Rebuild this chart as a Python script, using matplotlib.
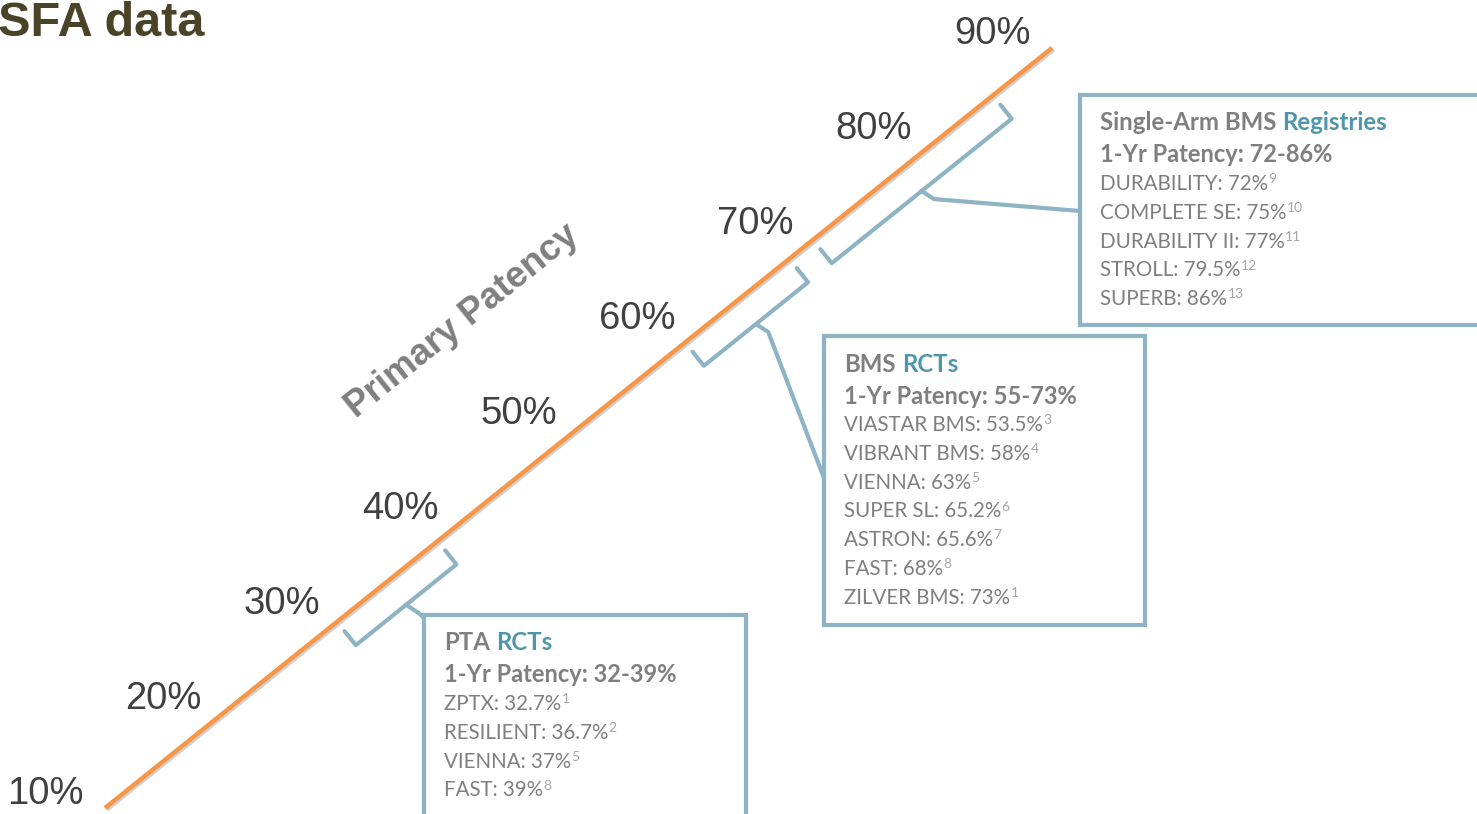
import matplotlib
matplotlib.use("Agg")
import matplotlib.pyplot as plt
import matplotlib.patheffects as pe
from matplotlib.patches import Rectangle
from matplotlib.transforms import Affine2D

# patency scale along the diagonal
tick_values = [10, 20, 30, 40, 50, 60, 70, 80, 90]
line_span = [11.6, 91.6]

# study groups
group_names = ["PTA", "BMS", "Single-Arm BMS"]
group_tags = ["RCTs", "RCTs", "Registries"]
range_lo = [32, 55, 72]
range_hi = [39, 73, 86]
# bracket extent as drawn on the slide (patency %)
bracket_lo = [31.2, 60.6, 71.4]
bracket_hi = [39.7, 69.4, 86.6]

pta_studies = ["ZPTX", "RESILIENT", "VIENNA", "FAST"]
pta_values = [32.7, 36.7, 37, 39]
pta_refs = [1, 2, 5, 8]

bms_studies = ["VIASTAR BMS", "VIBRANT BMS", "VIENNA", "SUPER SL", "ASTRON", "FAST", "ZILVER BMS"]
bms_values = [53.5, 58, 63, 65.2, 65.6, 68, 73]
bms_refs = [3, 4, 5, 6, 7, 8, 1]

reg_studies = ["DURABILITY", "COMPLETE SE", "DURABILITY II", "STROLL", "SUPERB"]
reg_values = [72, 75, 77, 79.5, 86]
reg_refs = [9, 10, 11, 12, 13]

ORANGE = "#f79646"
STEEL = "#8db3c4"
TEAL = "#4f96ad"
GRAY = "#7f7f7f"
DARK = "#404040"
BOX_FONT = "Lato"

fig = plt.figure(figsize=(14.77, 8.14), dpi=100)
ax = fig.add_axes([0, 0, 1, 1])
ax.set_xlim(0, 1477)
ax.set_ylim(814, 0)
ax.axis("off")

# (patency %, perpendicular px) -> slide pixels
diag = (Affine2D().translate(-line_span[0], 0).scale(15.18, 1)
        .rotate_deg(-38.75).translate(105, 808)) + ax.transData

ax.text(-2, 36, "SFA data", fontsize=35, fontweight="bold", color="#4b4328",
        family="Liberation Sans", ha="left", va="baseline")

ax.plot(line_span, [0, 0], transform=diag, color=ORANGE, lw=3.2,
        solid_capstyle="butt",
        path_effects=[pe.SimpleLineShadow(offset=(1.2, -1.2), alpha=0.18), pe.Normal()])

for v in tick_values:
    ax.annotate(f"{v}%", xy=(v, 0), xycoords=diag, xytext=(-41, 29),
                textcoords="offset pixels", fontsize=27.5, color=DARK,
                family="Liberation Sans", ha="center", va="center")

ax.text(50, -156, "Primary Patency", transform=diag, rotation=38.75,
        rotation_mode="anchor", fontsize=26.5, fontweight="bold", color=GRAY,
        family="Liberation Sans", ha="center", va="center")

# boxes: left, top, width, height in slide pixels, plus leader end point
boxes = [(424, 615, 322, 240), (824, 336, 321, 289), (1080, 95, 420, 230)]
leader_ends = [(424, 618), (824, 478), (1080, 211)]
studies = [
    (pta_studies, pta_values, pta_refs),
    (bms_studies, bms_values, bms_refs),
    (reg_studies, reg_values, reg_refs),
]

for i in range(3):
    lo, hi = bracket_lo[i], bracket_hi[i]
    mid = (lo + hi) / 2
    ax.plot([lo, lo, hi, hi], [12, 30, 30, 12], transform=diag, color=STEEL,
            lw=3, solid_joinstyle="round", solid_capstyle="round")
    tip = diag.transform((mid + 0.3, 44))
    tip = ax.transData.inverted().transform(tip)
    base = ax.transData.inverted().transform(diag.transform((mid, 30)))
    ex, ey = leader_ends[i]
    ax.plot([base[0], tip[0], ex], [base[1], tip[1], ey], color=STEEL, lw=3,
            solid_joinstyle="round", solid_capstyle="round")

    bx, by, bw, bh = boxes[i]
    ax.add_patch(Rectangle((bx, by), bw, bh, fill=True, facecolor="white",
                           edgecolor=STEEL, lw=3, zorder=3))

    tx = bx + 20
    t = ax.text(tx, by + 28, group_names[i], fontsize=17.3, fontweight="bold",
                color=GRAY, family=BOX_FONT, ha="left", va="center", zorder=4)
    ax.annotate(group_tags[i], xy=(1, 0), xycoords=t, xytext=(4.5, 0),
                textcoords="offset points", fontsize=17.3, fontweight="bold",
                color=TEAL, family=BOX_FONT, ha="left", va="bottom", zorder=4)
    ax.text(tx, by + 60, f"1-Yr Patency: {range_lo[i]}-{range_hi[i]}%",
            fontsize=17, fontweight="bold", color=GRAY, family=BOX_FONT,
            ha="left", va="center", zorder=4)

    names, vals, refs = studies[i]
    for k, (name, val, ref) in enumerate(zip(names, vals, refs)):
        t = ax.text(tx, by + 89 + k * 28.8, f"{name}: {val:g}%", fontsize=14.8,
                    color=GRAY, family=BOX_FONT, ha="left", va="center", zorder=4)
        ax.annotate(str(ref), xy=(1, 0.44), xycoords=t, xytext=(0.3, 0),
                    textcoords="offset points", fontsize=10, color="#a6a6a6",
                    family=BOX_FONT, ha="left", va="bottom", zorder=4)

fig.savefig("out.png", dpi=100)
